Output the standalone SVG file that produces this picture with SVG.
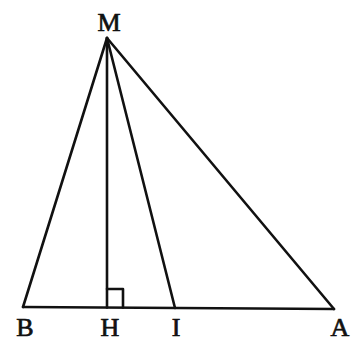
<svg xmlns="http://www.w3.org/2000/svg" width="357" height="342" viewBox="0 0 357 342">
<style>
.l{stroke:#111;stroke-width:2.6;fill:none;stroke-linecap:round;stroke-linejoin:round}
.t{font-family:"Liberation Serif",serif;font-size:26px;fill:#111;stroke:#111;stroke-width:0.7;text-anchor:middle}
</style>
<rect width="357" height="342" fill="#fff"/>
<g id="connectors">
<line class="l" x1="23" y1="307" x2="334" y2="309"/>
<line class="l" x1="107" y1="38" x2="23" y2="307"/>
<line class="l" x1="107" y1="38" x2="107" y2="307.5"/>
<line class="l" x1="107" y1="38" x2="175" y2="308"/>
<line class="l" x1="107" y1="38" x2="334" y2="309"/>
<polyline class="l" points="107,289 123,289 123,307.5"/>
</g>
<g id="M"><text class="t" x="109" y="31">M</text></g>
<g id="B"><text class="t" x="25" y="336">B</text></g>
<g id="H"><text class="t" x="110" y="336">H</text></g>
<g id="I"><text class="t" x="176" y="336">I</text></g>
<g id="A"><text class="t" x="340" y="336">A</text></g>
</svg>
